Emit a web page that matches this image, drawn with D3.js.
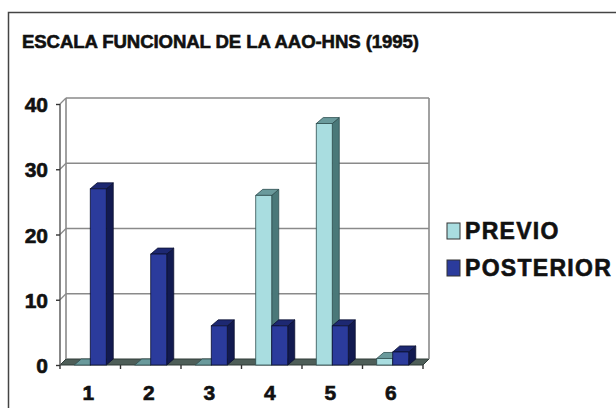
<!DOCTYPE html>
<html>
<head>
<meta charset="utf-8">
<script src="https://cdn.jsdelivr.net/npm/d3@7"></script>
<style>
  html, body { margin: 0; padding: 0; background: #fff; }
  svg { display: block; }
  text { font-family: "Liberation Sans", Arial, sans-serif; font-weight: bold; fill: #111; stroke: #111; stroke-width: 0.6px; }
</style>
</head>
<body>
<svg id="chart" width="616" height="408"></svg>
<script>
// Escala funcional AAO-HNS: número de casos por clase, antes y después
const categories = ["1", "2", "3", "4", "5", "6"];
const previo = [0, 0, 0, 26, 37, 1];
const posterior = [27, 17, 6, 6, 6, 2];
const yTicks = [0, 10, 20, 30, 40];
const seriesNames = ["PREVIO", "POSTERIOR"];
const titleText = "ESCALA FUNCIONAL DE LA AAO-HNS (1995)";

const svg = d3.select("#chart");

// Frame around the figure
svg.append("rect")
  .attr("x", 8.5).attr("y", 12.5)
  .attr("width", 640).attr("height", 420)
  .attr("fill", "#fff").attr("stroke", "#444").attr("stroke-width", 1.5);

svg.append("text")
  .attr("x", 22).attr("y", 48)
  .attr("font-size", 18.6)
  .attr("letter-spacing", -0.1)
  .text(titleText);

// Scales for the front plane of the 3D plot
const x = d3.scaleBand().domain(categories).range([60, 423]);
const y = d3.scaleLinear().domain([0, 40]).range([365, 104]);

// Depth offsets: walls and columns
const wdx = 6, wdy = -6;
const bdx = 7, bdy = -6;

const plot = svg.append("g");

// Floor
const floorPts = [[60, y(0)], [423, y(0)], [423 + wdx, y(0) + wdy], [60 + wdx, y(0) + wdy]];
plot.append("polygon")
  .attr("points", floorPts.map(p => p.join(",")).join(" "))
  .attr("fill", "#4e5e58").attr("stroke", "#2f3b37").attr("stroke-width", 1);

// Back wall gridlines and left-wall diagonals
const gridColor = "#8a8a8a";
yTicks.filter(v => v > 0).forEach(v => {
  plot.append("line")
    .attr("x1", 60 + wdx).attr("x2", 423 + wdx)
    .attr("y1", y(v) + wdy).attr("y2", y(v) + wdy)
    .attr("stroke", gridColor).attr("stroke-width", 1.6);
  plot.append("line")
    .attr("x1", 60).attr("x2", 60 + wdx)
    .attr("y1", y(v)).attr("y2", y(v) + wdy)
    .attr("stroke", gridColor).attr("stroke-width", 1.2);
});
// Wall edges
plot.append("line")
  .attr("x1", 60 + wdx).attr("x2", 60 + wdx)
  .attr("y1", y(40) + wdy).attr("y2", y(0) + wdy)
  .attr("stroke", gridColor).attr("stroke-width", 1.6);
plot.append("line")
  .attr("x1", 423 + wdx).attr("x2", 423 + wdx)
  .attr("y1", y(40) + wdy).attr("y2", y(0) + wdy)
  .attr("stroke", gridColor).attr("stroke-width", 1.6);
plot.append("line")
  .attr("x1", 60).attr("x2", 60)
  .attr("y1", y(40)).attr("y2", y(0))
  .attr("stroke", "#555").attr("stroke-width", 1.4);

// Y axis ticks and labels
const yAxis = d3.axisLeft(y).tickValues(yTicks).tickSize(4).tickPadding(8).tickFormat(d3.format("d"));
const gy = svg.append("g").attr("transform", "translate(60,0)").call(yAxis);
gy.select(".domain").remove();
gy.selectAll(".tick line").attr("stroke", "#333").attr("stroke-width", 1.4);
gy.selectAll(".tick text")
  .attr("font-size", 21).attr("font-family", "Liberation Sans, Arial, sans-serif")
  .attr("font-weight", "bold").attr("fill", "#111").attr("dy", "0.36em");

// X axis ticks at category boundaries and labels
const boundaries = categories.map(c => x(c)).concat([x.range()[1]]);
svg.append("g").selectAll("line").data(boundaries).join("line")
  .attr("x1", d => d).attr("x2", d => d)
  .attr("y1", y(0)).attr("y2", y(0) + 4)
  .attr("stroke", "#333").attr("stroke-width", 1.4);
svg.append("g").selectAll("text").data(categories).join("text")
  .attr("x", d => x(d) + x.bandwidth() / 2 - 2)
  .attr("y", 400)
  .attr("text-anchor", "middle")
  .attr("font-size", 21)
  .text(d => d);

// 3D columns
const barW = 16;
const colors = [
  { front: "#a9dde0", side: "#4a7879", top: "#6a9a9c", edge: "#2f4f50" },
  { front: "#2b3b9c", side: "#121a50", top: "#1d2872", edge: "#0b1030" }
];
const seriesData = [previo, posterior];

const bars = [];
categories.forEach((c, i) => {
  const cx = x(c) + x.bandwidth() / 2;
  seriesData.forEach((vals, s) => {
    bars.push({ x0: cx - barW + s * barW, v: vals[i], s });
  });
});

const gb = svg.append("g");
bars.forEach(b => {
  const col = colors[b.s];
  const x0 = b.x0, x1 = b.x0 + barW;
  const yt = y(b.v), yb = y(0);
  const g = gb.append("g");
  // side face
  g.append("polygon")
    .attr("points", [[x1, yb], [x1 + bdx, yb + bdy], [x1 + bdx, yt + bdy], [x1, yt]].map(p => p.join(",")).join(" "))
    .attr("fill", col.side).attr("stroke", col.edge).attr("stroke-width", 0.8);
  // top face
  g.append("polygon")
    .attr("points", [[x0, yt], [x0 + bdx, yt + bdy], [x1 + bdx, yt + bdy], [x1, yt]].map(p => p.join(",")).join(" "))
    .attr("fill", col.top).attr("stroke", col.edge).attr("stroke-width", 0.8);
  // front face
  if (b.v > 0) {
    g.append("rect")
      .attr("x", x0).attr("y", yt)
      .attr("width", barW).attr("height", yb - yt)
      .attr("fill", col.front).attr("stroke", col.edge).attr("stroke-width", 0.8);
  }
});

// Legend
const legend = svg.append("g");
seriesNames.forEach((name, i) => {
  const ly = 239 + i * 37;
  legend.append("rect")
    .attr("x", 447).attr("y", ly - 16)
    .attr("width", 13).attr("height", 16)
    .attr("fill", colors[i].front).attr("stroke", "#333").attr("stroke-width", 1);
  legend.append("text")
    .attr("x", 465).attr("y", ly)
    .attr("font-size", 23)
    .attr("letter-spacing", 1.3)
    .text(name);
});
</script>
</body>
</html>
